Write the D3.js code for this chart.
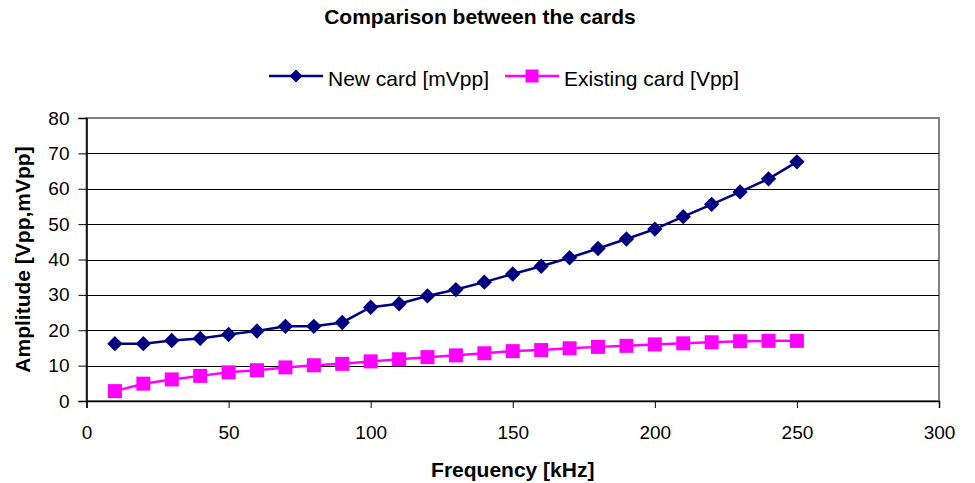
<!DOCTYPE html>
<html>
<head>
<meta charset="utf-8">
<script src="https://cdn.jsdelivr.net/npm/d3@7"></script>
<style>
  body { margin: 0; background: #fff; }
  text { font-family: "Liberation Sans", Arial, sans-serif; fill: #000; }
</style>
</head>
<body>
<svg id="chart"></svg>
<script>
const frequencies = [10, 20, 30, 40, 50, 60, 70, 80, 90, 100, 110, 120, 130, 140, 150, 160, 170, 180, 190, 200, 210, 220, 230, 240, 250]
const newCard = [16.2, 16.2, 17.1, 17.7, 18.8, 19.8, 21.1, 21.1, 22.2, 26.5, 27.5, 29.7, 31.5, 33.6, 35.9, 38.1, 40.5, 43.1, 45.8, 48.6, 52.1, 55.6, 59.1, 62.8, 67.6]
const existingCard = [2.8, 4.9, 6.1, 7.1, 8.1, 8.7, 9.5, 10.1, 10.5, 11.2, 11.8, 12.4, 12.9, 13.5, 14.1, 14.4, 14.9, 15.3, 15.6, 16.0, 16.3, 16.6, 16.9, 17.0, 17.0]
const xTicks = [0, 50, 100, 150, 200, 250, 300]
const yTicks = [0, 10, 20, 30, 40, 50, 60, 70, 80]

const series = [
  {name: 'New card [mVpp]', values: newCard, color: '#000080', symbol: d3.symbolDiamond2, size: 150, legendSize: 108},
  {name: 'Existing card [Vpp]', values: existingCard, color: '#ff00ff', symbol: d3.symbolSquare, size: 196, legendSize: 169}
]

const width = 975
const height = 483
const margin = {top: 118, right: 36, bottom: 82, left: 86.5}

const svg = d3.select('#chart')
  .attr('width', width)
  .attr('height', height)

const x = d3.scaleLinear().domain([0, 300]).range([margin.left, width - margin.right])
const y = d3.scaleLinear().domain([0, 80]).range([height - margin.bottom, margin.top])

// plot area border
svg.append('rect')
  .attr('x', x(0))
  .attr('y', y(80))
  .attr('width', x(300) - x(0))
  .attr('height', y(0) - y(80))
  .attr('fill', 'none')
  .attr('stroke', '#808080')
  .attr('stroke-width', 2)

// gridlines
svg.selectAll('.grid')
  .data(yTicks.filter(d => d > 0 && d < 80))
  .enter()
  .append('line')
  .attr('x1', x(0))
  .attr('x2', x(300))
  .attr('y1', d => Math.round(y(d)) + 0.5)
  .attr('y2', d => Math.round(y(d)) + 0.5)
  .attr('stroke', '#000')
  .attr('stroke-width', 1)

const xAxis = svg.append('g')
  .attr('transform', `translate(0,${y(0)})`)
  .call(d3.axisBottom(x).tickValues(xTicks).tickSize(7).tickPadding(18))
xAxis.select('.domain').attr('stroke-width', 1.5)
xAxis.selectAll('text').style('font-size', '19px')

const yAxis = svg.append('g')
  .attr('transform', `translate(${x(0)},0)`)
  .call(d3.axisLeft(y).tickValues(yTicks).tickSize(8).tickPadding(9))
yAxis.select('.domain').attr('stroke-width', 1.5)
yAxis.selectAll('text').style('font-size', '19px')

const line = d3.line()
  .x((d, i) => x(frequencies[i]))
  .y(d => y(d))

for (let s of series) {
  svg.append('path')
    .datum(s.values)
    .attr('d', line)
    .attr('fill', 'none')
    .attr('stroke', s.color)
    .attr('stroke-width', 2.5)

  svg.selectAll(null)
    .data(s.values)
    .enter()
    .append('path')
    .attr('d', d3.symbol().type(s.symbol).size(s.size))
    .attr('transform', (d, i) => `translate(${x(frequencies[i])},${y(d)})`)
    .attr('fill', s.color)
}

// title
svg.append('text')
  .attr('x', 480)
  .attr('y', 24)
  .attr('text-anchor', 'middle')
  .style('font-size', '21px')
  .style('font-weight', 'bold')
  .text('Comparison between the cards')

// legend
const legendItems = [{x: 269, tx: 328}, {x: 505, tx: 564}]
series.forEach((s, i) => {
  const g = svg.append('g')
  const lx = legendItems[i].x
  g.append('line')
    .attr('x1', lx).attr('x2', lx + 54)
    .attr('y1', 76).attr('y2', 76)
    .attr('stroke', s.color)
    .attr('stroke-width', 2.5)
  g.append('path')
    .attr('d', d3.symbol().type(s.symbol).size(s.legendSize))
    .attr('transform', `translate(${lx + 27},76)`)
    .attr('fill', s.color)
  g.append('text')
    .attr('x', legendItems[i].tx)
    .attr('y', 86)
    .style('font-size', '21px')
    .text(s.name)
})

// axis titles
svg.append('text')
  .attr('x', (x(0) + x(300)) / 2)
  .attr('y', 477)
  .attr('text-anchor', 'middle')
  .style('font-size', '21px')
  .style('font-weight', 'bold')
  .text('Frequency [kHz]')

svg.append('text')
  .attr('transform', `translate(30,${(y(0) + y(80)) / 2}) rotate(-90)`)
  .attr('text-anchor', 'middle')
  .style('font-size', '21px')
  .style('font-weight', 'bold')
  .text('Amplitude [Vpp,mVpp]')
</script>
</body>
</html>
